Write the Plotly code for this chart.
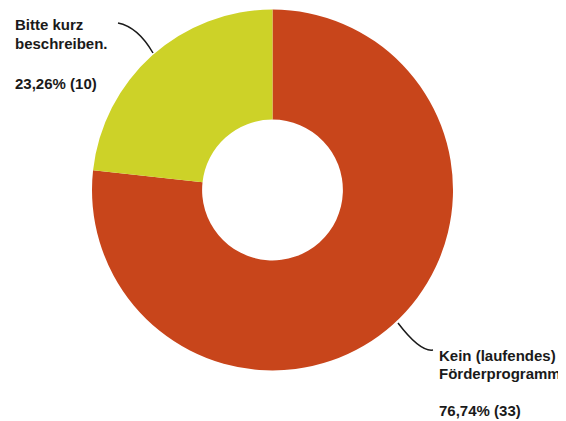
"""Donut chart - Förderprogramm"""

import plotly.graph_objects as go

W, H = 566, 421
OFF = 8  # body margin of the html page

labels = ["Kein (laufendes) Förderprogramm", "Bitte kurz beschreiben."]
counts = [33, 10]
colors = ["#C8451B", "#CDD228"]

# label text lines (left block / right block)
left_lines = ["Bitte kurz", "beschreiben."]
right_lines = ["Kein (laufendes)", "Förderprogramm"]


def px(x):
    return (x - OFF) / W


def py(y):
    return 1 - (y - OFF) / H


total = sum(counts)
pct = [f"{c / total * 100:.2f}".replace(".", ",") + f"% ({c})" for c in counts]

fig = go.Figure()

fig.add_trace(
    go.Pie(
        labels=labels,
        values=counts,
        hole=0.39,
        sort=False,
        direction="clockwise",
        rotation=0,
        marker=dict(colors=colors, line=dict(width=0)),
        textinfo="none",
        hoverinfo="label+value+percent",
        domain=dict(x=[px(92), px(453)], y=[py(371), py(9)]),
        showlegend=False,
    )
)

font = dict(family="Liberation Sans, Arial, sans-serif", size=15, color="#1a1a1a")
annotations = []

# linke Beschriftung
for i, line in enumerate(left_lines):
    annotations.append(dict(x=px(13), y=py(24 + i * 19), text=f"<b>{line}</b>"))
annotations.append(dict(x=px(13), y=py(83), text=f"<b>{pct[1]}</b>"))

# rechte Beschriftung
for i, line in enumerate(right_lines):
    annotations.append(dict(x=px(437), y=py(355 + i * 18), text=f"<b>{line}</b>"))
annotations.append(dict(x=px(437), y=py(410), text=f"<b>{pct[0]}</b>"))

for a in annotations:
    a.update(xref="paper", yref="paper", xanchor="left", yanchor="middle",
             showarrow=False, font=font)

# Führungslinien
shapes = [
    dict(
        type="path",
        xref="paper",
        yref="paper",
        path=f"M {px(118)},{py(23)} Q {px(138)},{py(27)} {px(153)},{py(53)}",
        line=dict(color="#1a1a1a", width=1.5),
    ),
    dict(
        type="path",
        xref="paper",
        yref="paper",
        path=f"M {px(398)},{py(323)} Q {px(420)},{py(352)} {px(433)},{py(350)}",
        line=dict(color="#1a1a1a", width=1.5),
    ),
]

fig.update_layout(
    width=W,
    height=H,
    margin=dict(l=0, r=0, t=0, b=0),
    paper_bgcolor="white",
    plot_bgcolor="white",
    annotations=annotations,
    shapes=shapes,
)

fig.write_html("out.html")
